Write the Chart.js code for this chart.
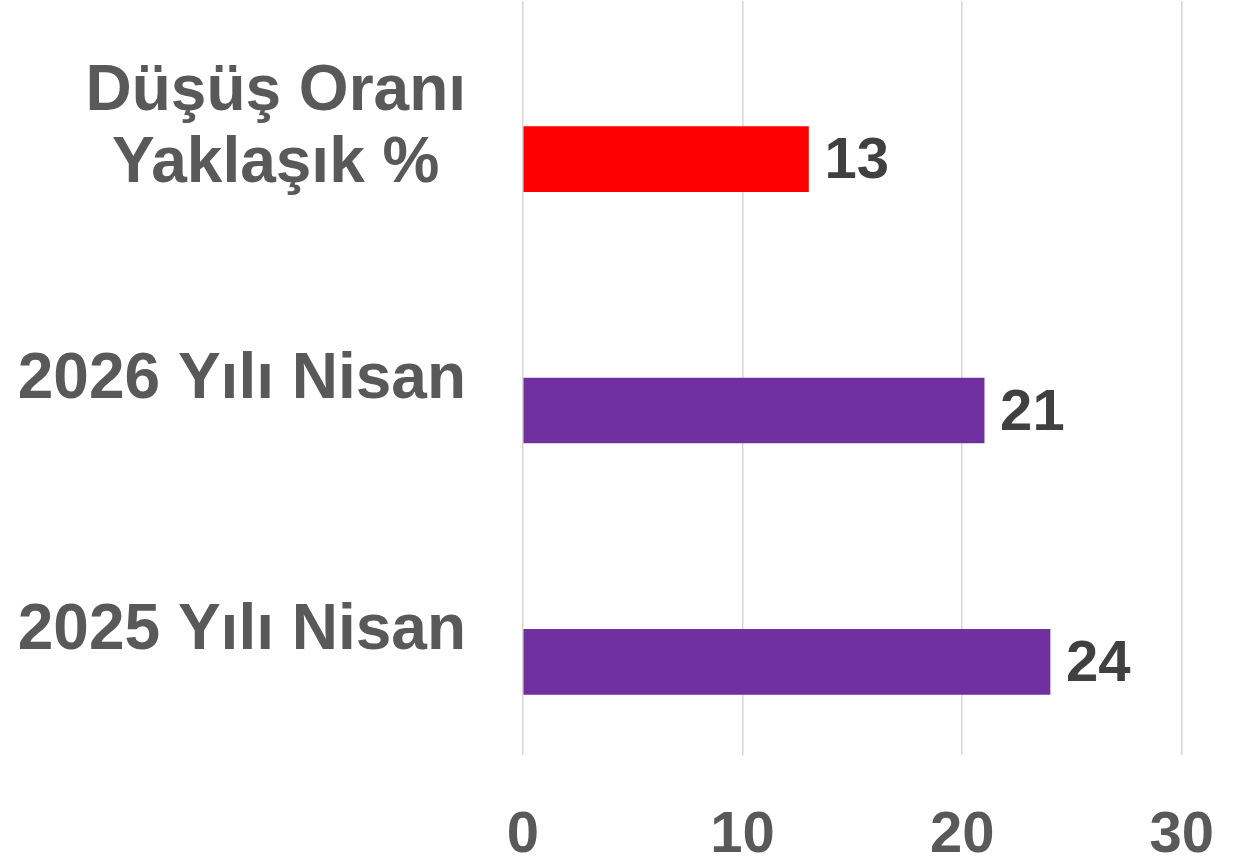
<!DOCTYPE html>
<html>
<head>
<meta charset="utf-8">
<script src="https://cdn.jsdelivr.net/npm/chart.js@4/dist/chart.umd.min.js"></script>
<style>
  html, body { margin: 0; padding: 0; background: #fff; }
  #chart { display: block; }
</style>
</head>
<body>
<canvas id="chart" width="1260" height="863"></canvas>
<script>
// --- DATA ---
const categories = [['Düşüş Oranı', 'Yaklaşık %'], '2026 Yılı Nisan', '2025 Yılı Nisan'];
const values = [13, 21, 24];
const emptySeries = [null, null, null]; // second (blank) series, pushes bars down like the original
const xTicks = [0, 10, 20, 30];
const barColors = ['#FF0000', '#7030A0', '#7030A0'];

// --- STYLE ---
const FONT = '"Liberation Sans", Arial, sans-serif';
const LABEL_GRAY = '#595959';
const VALUE_GRAY = '#404040';

// y labels drawn by hand so a two-line label is centred line by line (like Excel)
const categoryLabels = {
    id: 'categoryLabels',
    afterDraw(chart) {
        const ctx = chart.ctx;
        const yScale = chart.scales.y;
        const rightEdge = chart.chartArea.left - 57;
        const lineH = 72;
        ctx.save();
        ctx.font = `bold 64px ${FONT}`;
        ctx.fillStyle = LABEL_GRAY;
        ctx.textAlign = 'center';
        ctx.textBaseline = 'middle';
        categories.forEach((lab, i) => {
            const lines = Array.isArray(lab) ? lab : [lab];
            const blockW = Math.max(...lines.map(l => ctx.measureText(l).width));
            const cx = rightEdge - blockW / 2;
            const cy = yScale.getPixelForValue(i) + 2;
            lines.forEach((line, k) => {
                ctx.fillText(line, cx, cy + (k - (lines.length - 1) / 2) * lineH);
            });
        });
        ctx.restore();
    }
};

// value labels at the end of each bar
const valueLabels = {
    id: 'valueLabels',
    afterDatasetsDraw(chart) {
        const ctx = chart.ctx;
        const meta = chart.getDatasetMeta(1);
        ctx.save();
        ctx.font = `bold 58px ${FONT}`;
        ctx.fillStyle = VALUE_GRAY;
        ctx.textAlign = 'left';
        ctx.textBaseline = 'middle';
        meta.data.forEach((bar, i) => {
            ctx.fillText(String(values[i]), bar.x + 16, bar.y + 3);
        });
        ctx.restore();
    }
};

new Chart(document.getElementById('chart'), {
    type: 'bar',
    data: {
        labels: categories,
        datasets: [
            { label: 'boş', data: emptySeries, backgroundColor: '#7030A0', barThickness: 65 },
            { label: 'değer', data: values, backgroundColor: barColors, barThickness: 65 }
        ]
    },
    options: {
        indexAxis: 'y',
        responsive: false,
        animation: false,
        layout: { padding: { top: 1, right: 77, left: 0, bottom: 0 } },
        plugins: {
            legend: { display: false },
            tooltip: { enabled: false }
        },
        scales: {
            x: {
                min: 0,
                max: 30,
                afterBuildTicks: (scale) => { scale.ticks = xTicks.map(v => ({ value: v })); },
                afterFit: (scale) => { scale.height = 108; },
                grid: { color: '#d9d9d9', lineWidth: 1.6, drawTicks: false },
                border: { display: false },
                ticks: {
                    padding: 46,
                    color: LABEL_GRAY,
                    font: { family: FONT, size: 58, weight: 'bold' }
                }
            },
            y: {
                afterFit: (scale) => { scale.width = 523; },
                grid: { display: false },
                border: { display: false },
                ticks: { display: false }
            }
        }
    },
    plugins: [categoryLabels, valueLabels]
});
</script>
</body>
</html>
